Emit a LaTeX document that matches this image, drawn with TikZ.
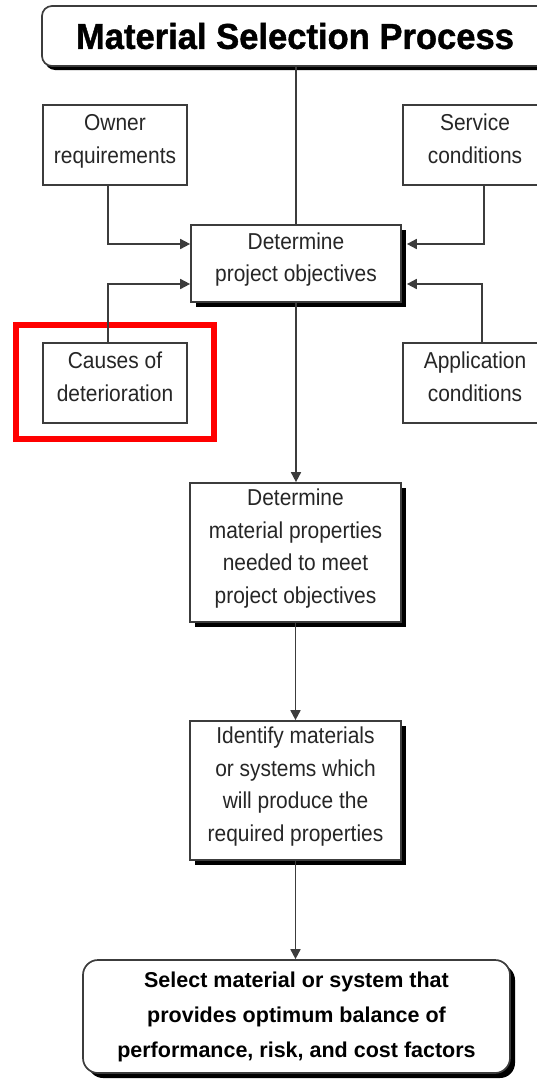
\documentclass[tikz,border=0pt]{standalone}
\usepackage{fontspec}
\setmainfont{Liberation Sans}[FakeStretch=0.91]
\newfontfamily\boldfam{Liberation Sans Bold}
\newfontfamily\titlefam{Liberation Sans Bold}[FakeStretch=0.96,FakeBold=1.2]
\usetikzlibrary{shadows,arrows.meta}
\definecolor{txt}{HTML}{262626}
\definecolor{ln}{HTML}{3c3c3c}
\newcommand{\liftup}{\\[-20pt]\mbox{}}
\tikzset{
  boxbase/.style={draw=ln, line width=1.7pt, fill=white, inner sep=2pt, align=center,
    text=txt, font=\fontsize{23}{32.5}\selectfont},
  smallbox/.style={boxbase, minimum width=144pt, minimum height=80pt},
  mainbox/.style={boxbase, drop shadow={shadow xshift=5pt, shadow yshift=-5pt, fill=black, opacity=1}},
  titlebox/.style={draw=ln, line width=1.7pt, fill=white, rounded corners=10pt,
    minimum width=506pt, minimum height=60pt, inner sep=0pt,
    font=\titlefam\fontsize{36}{36}\selectfont,
    drop shadow={shadow xshift=3pt, shadow yshift=-4pt, fill=black, opacity=1}},
  endbox/.style={draw=ln, line width=1.7pt, fill=white, rounded corners=15pt,
    minimum width=427pt, minimum height=113pt, align=center, inner sep=0pt,
    font=\boldfam\fontsize{21.5}{35}\selectfont,
    drop shadow={shadow xshift=5pt, shadow yshift=-5pt, fill=black, opacity=1}},
  conn/.style={draw=ln, line width=1.7pt},
  arr/.style={conn, -{Triangle[length=10pt,width=10pt]}},
  highlight/.style={draw=red, line width=6pt, minimum width=198pt, minimum height=114pt, inner sep=0pt}
}
\begin{document}
\begin{tikzpicture}[x=1pt,y=-1pt]
\useasboundingbox (0,0) rectangle (536,1079);
\node[titlebox] (title) at (295,36) {Material Selection Process};
\node[smallbox] (owner) at (115,145) {Owner\\requirements\liftup};
\node[smallbox] (service) at (475,145) {Service\\conditions\liftup};
\node[mainbox, minimum width=210pt, minimum height=77pt] (det1) at (296,263.5) {Determine\\project objectives\liftup};
\node[smallbox] (causes) at (115,383) {Causes of\\deterioration\liftup};
\node[smallbox] (app) at (475,383) {Application\\conditions\liftup};
\node[highlight] (hl) at (115,382) {};
\node[mainbox, minimum width=211pt, minimum height=139pt] (det2) at (295.5,552.5) {Determine\\material properties\\needed to meet\\project objectives\liftup};
\node[mainbox, minimum width=211pt, minimum height=139pt] (ident) at (295.5,790.5) {Identify materials\\or systems which\\will produce the\\required properties\liftup};
\node[endbox] (sel) at (296.5,1016.5) {Select material or system that\\provides optimum balance of\\performance, risk, and cost factors};

\draw[conn] (title.south -| det1.north) -- (det1.north);
\draw[arr] ([xshift=-7pt]owner.south) |- ([yshift=19.5pt]det1.west);
\draw[arr] ([xshift=-7pt]causes.north) |- ([yshift=-20.5pt]det1.west);
\draw[arr] ([xshift=9pt]service.south) |- ([xshift=5pt,yshift=19.5pt]det1.east);
\draw[arr] ([xshift=7pt]app.north) |- ([xshift=5pt,yshift=-20.5pt]det1.east);
\draw[arr] (det1.south) -- (det1.south |- det2.north);
\draw[arr] (det2.south) -- (ident.north);
\draw[arr] (ident.south) -- (ident.south |- sel.north);
\end{tikzpicture}
\end{document}
